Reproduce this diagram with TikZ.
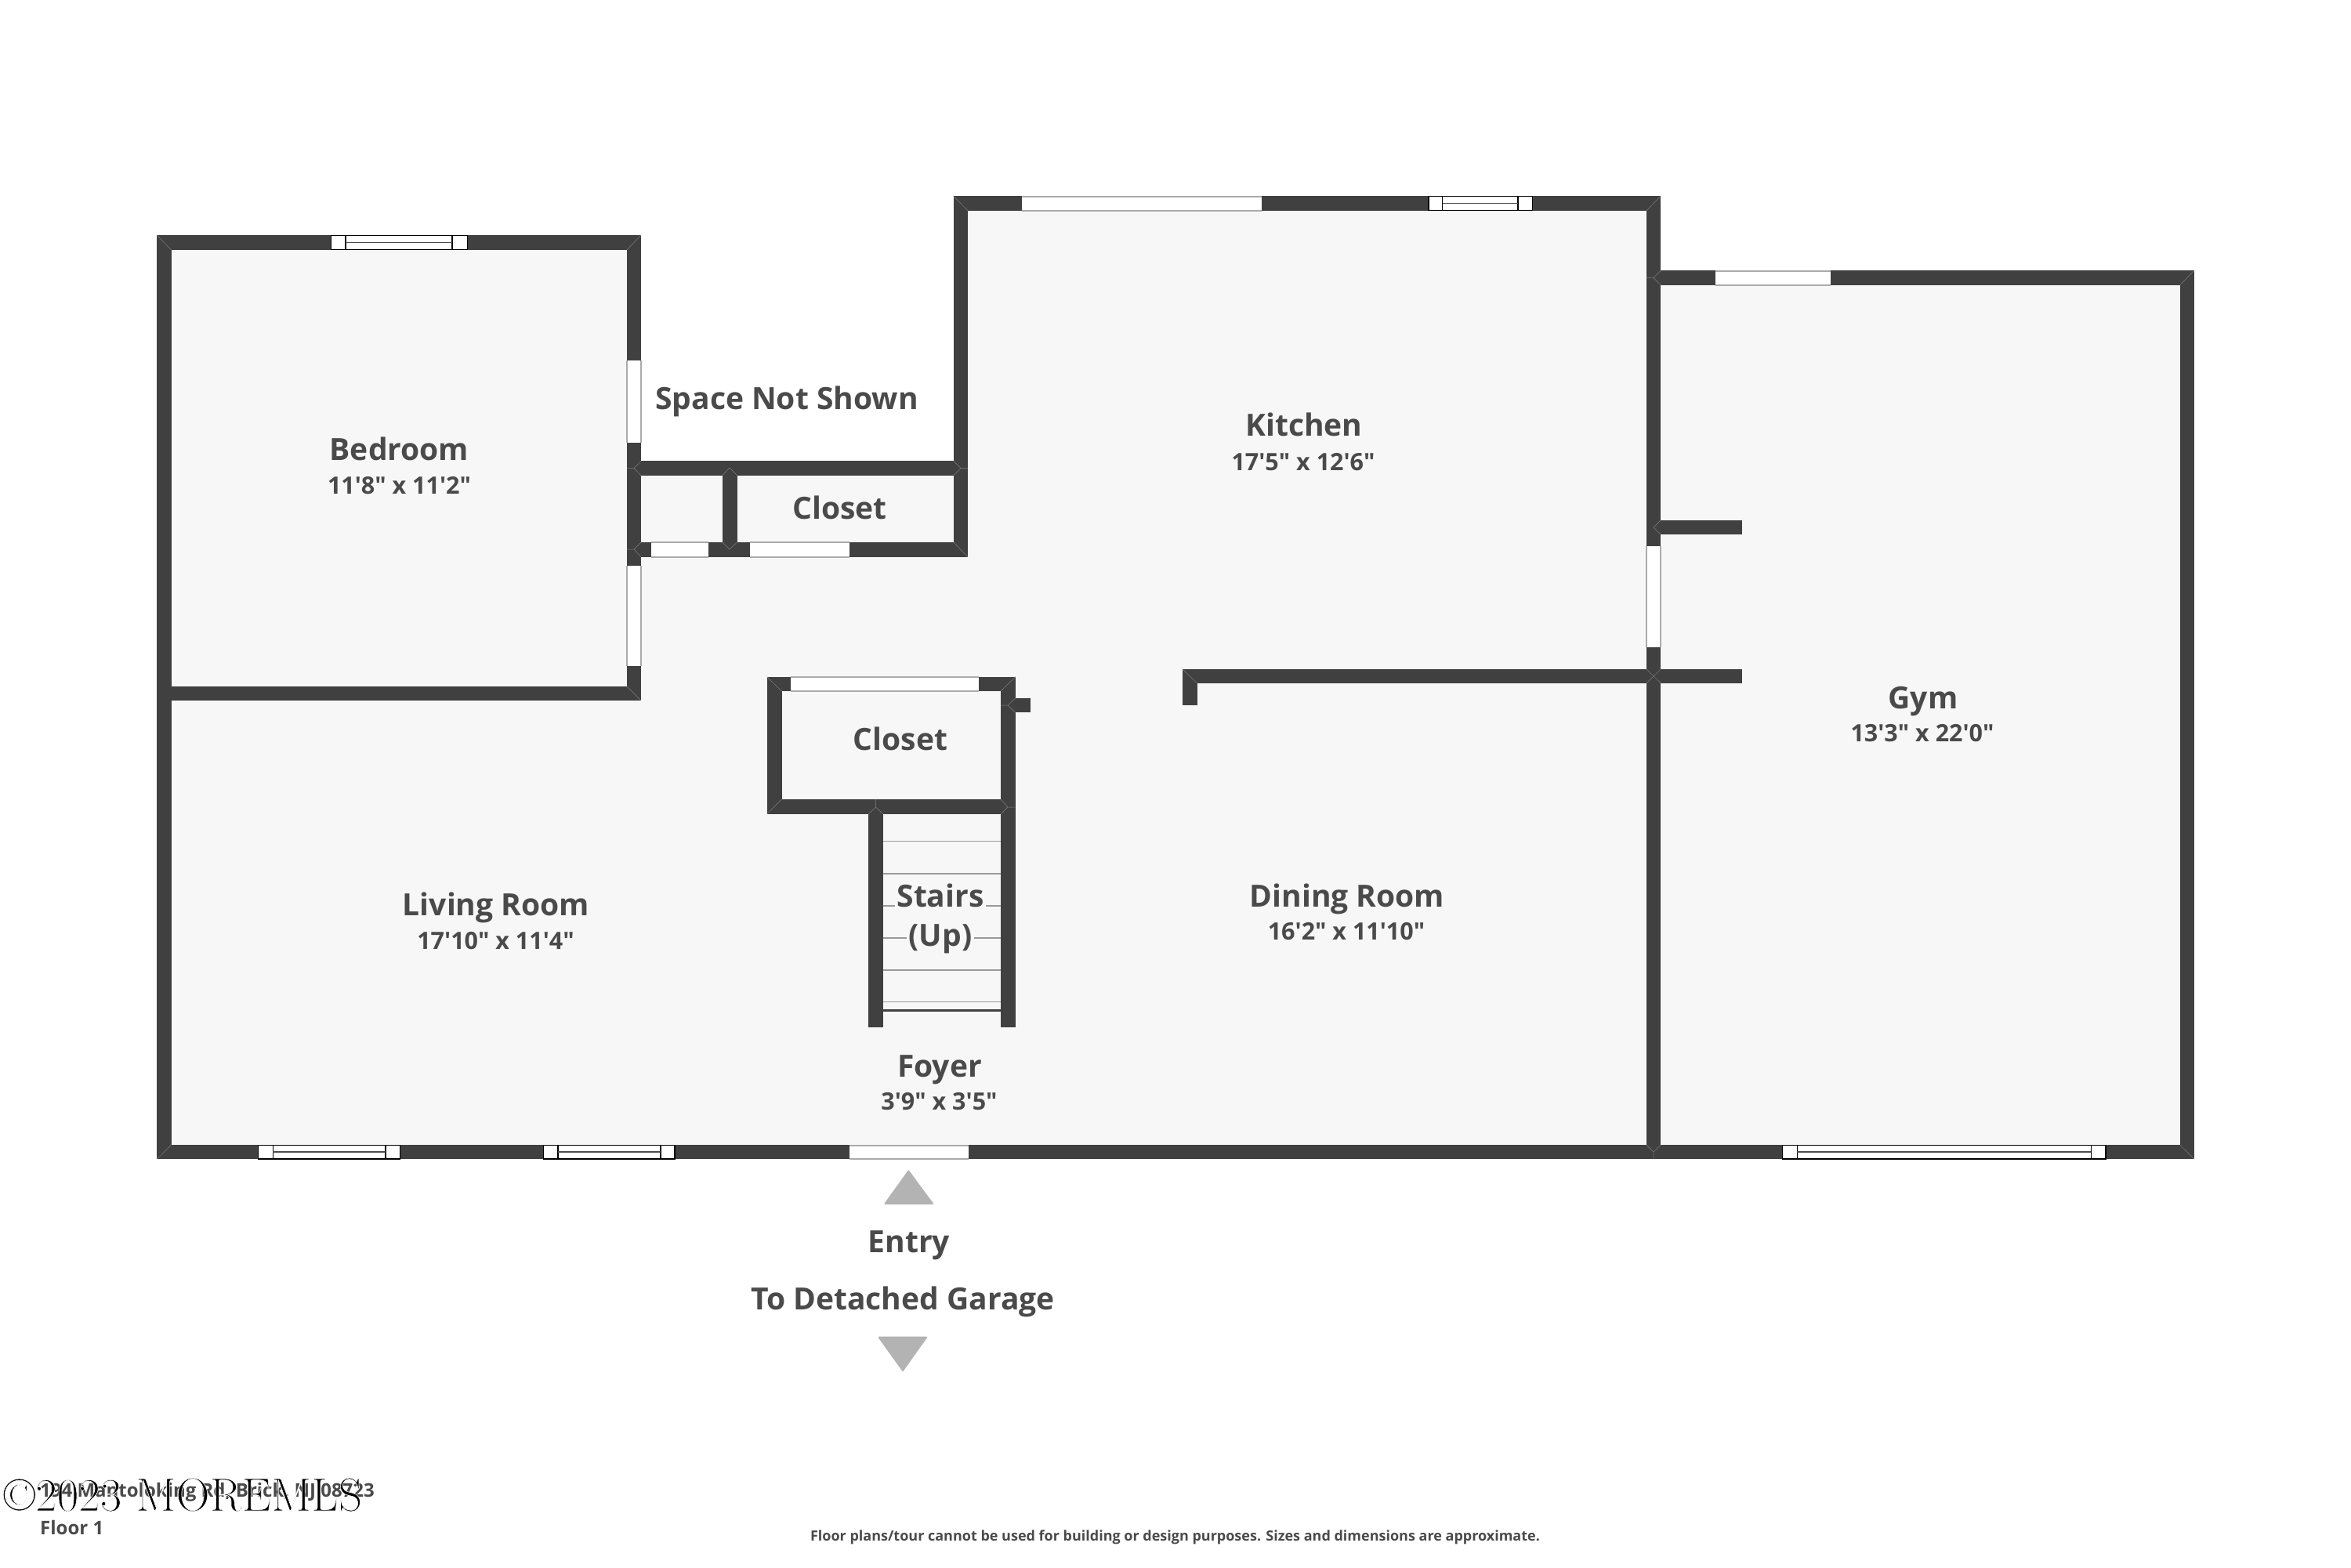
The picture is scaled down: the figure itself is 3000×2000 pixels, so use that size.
\documentclass[tikz,border=0pt]{standalone}
\usepackage{fontspec}
\newfontfamily\lab{Open Sans}[BoldFont={Open Sans Bold}]
\definecolor{wallc}{HTML}{404040}
\definecolor{floorc}{HTML}{F7F7F7}
\definecolor{textc}{HTML}{4A4A4A}
\definecolor{arrowc}{HTML}{B3B3B3}
\definecolor{doorc}{HTML}{ABABAB}
\definecolor{treadc}{HTML}{9A9A9A}
\tikzset{
  wallfill/.style={fill=wallc,draw=none},
  mitre/.style={draw=gray,line width=0.5pt},
  doorline/.style={draw=doorc,line width=2pt},
  winouter/.style={draw=black,fill=white,line width=1.2pt},
  wininner/.style={draw=black,line width=1.6pt},
  winmid/.style={draw=black!70,line width=1.6pt},
  treadline/.style={draw=treadc,line width=1.6pt},
  arrowtri/.style={fill=arrowc,draw=arrowc,line width=2pt,line join=round},
  roomname/.style={anchor=base,text=textc,inner sep=0pt,font=\lab\bfseries\fontsize{39}{41}\selectfont},
  roomdim/.style={anchor=base,text=textc,inner sep=0pt,font=\lab\bfseries\fontsize{30.5}{32}\selectfont},
  smalltext/.style={anchor=base west,text=textc,inner sep=0pt,font=\lab\bfseries\fontsize{24}{26}\selectfont},
  notetext/.style={anchor=base,text=textc,inner sep=0pt,font=\lab\bfseries\fontsize{18}{20}\selectfont},
}
\newcommand{\wallbox}[4]{\fill[wallfill] (#1,#2) rectangle (#3,#4);}
\newcommand{\hdoor}[4]{\fill[white] (#1,#3) rectangle (#2,#4);\draw[doorline] (#1,#3) -- (#2,#3) (#1,#4) -- (#2,#4);}
\newcommand{\vdoor}[4]{\fill[white] (#1,#3) rectangle (#2,#4);\draw[doorline] (#1,#3) -- (#1,#4) (#2,#3) -- (#2,#4);}
\newcommand{\hwin}[6]{\draw[winouter] (#1,#5) rectangle (#4,#6);\draw[wininner] (#2,#5) rectangle (#3,#6);\draw[winmid] (#2,{(#5+#6)/2}) -- (#3,{(#5+#6)/2});}
\begin{document}
\begin{tikzpicture}[x=1pt,y=-1pt]
\useasboundingbox (0,0) rectangle (3000,2000);
\fill[white] (0,0) rectangle (3000,2000);
% floor
\fill[floorc] (200,300) -- (818,300) -- (818,597) -- (1225,597) -- (1225,250) -- (2110,250) -- (2110,345) -- (2800,345) -- (2800,1479.3) -- (200,1479.3) -- cycle;
% walls
\wallbox{200}{300}{818}{318.7}
\wallbox{200}{300}{218.5}{1479.3}
\wallbox{800}{300}{818}{894}
\wallbox{200}{876}{818}{894}
\wallbox{800}{588.3}{1235}{606.7}
\wallbox{800}{692}{1235}{710.7}
\wallbox{921.8}{597}{940.7}{701}
\wallbox{1216.5}{250}{1235}{710.7}
\wallbox{1216.5}{250}{2119.4}{268.7}
\wallbox{2101}{250}{2119.4}{1479.3}
\wallbox{2110}{345}{2800}{364}
\wallbox{2781.6}{345}{2800}{1479.3}
\wallbox{200}{1461}{2800}{1479.3}
\wallbox{2110}{663.5}{2223}{682.2}
\wallbox{1508.7}{853.5}{2223}{872}
\wallbox{1508.7}{853.5}{1527.7}{900}
% inner closet and stairs
\wallbox{978.6}{863.7}{1295.7}{882}
\wallbox{978.6}{863.7}{997.5}{1039}
\wallbox{978.6}{1020}{1295.7}{1039}
\wallbox{1277}{863.7}{1295.7}{1310.7}
\wallbox{1295}{891}{1314.6}{909.3}
\wallbox{1108}{1030}{1126.7}{1310.7}
% mitre lines
\draw[mitre] (200,300) -- (218.5,318.7) (818,300) -- (800,318.7);
\draw[mitre] (818,894) -- (800,876) (1235,710.7) -- (1216.8,692);
\draw[mitre] (1216.5,250) -- (1235,268.7) (2119.4,250) -- (2101,268.7);
\draw[mitre] (2800,345) -- (2781.6,364) (2800,1479.3) -- (2781.6,1461) (200,1479.3) -- (218.5,1461);
\draw[mitre] (800,597.5) -- (809,597.5) -- (818,588.3) (809,597.5) -- (818,606.7);
\draw[mitre] (1235,597.5) -- (1226,597.5) -- (1216.8,588.3) (1226,597.5) -- (1216.8,606.7);
\draw[mitre] (921.8,606.7) -- (931,597) -- (940.7,606.7) (921.8,692) -- (931,701) -- (940.7,692);
\draw[mitre] (800,701) -- (809,701) -- (818,692) (809,701) -- (818,710.7);
\draw[mitre] (978.6,863.7) -- (997.5,882) (1295.7,863.7) -- (1277,882) (978.6,1039) -- (997.5,1020);
\draw[mitre] (1277,900) -- (1286,900) -- (1295.7,891) (1286,900) -- (1295.7,909.3);
\draw[mitre] (1277,1020) -- (1286,1030) -- (1295.7,1030) (1286,1030) -- (1277,1039);
\draw[mitre] (1108,1039) -- (1117.5,1030) -- (1127,1039) (1117.5,1030) -- (1117.5,1020);
\draw[mitre] (1508.7,853.5) -- (1527.7,872);
\draw[mitre] (2101,354.5) -- (2110,354.5) -- (2119.4,345) (2110,354.5) -- (2119.4,364);
\draw[mitre] (2119.4,663.5) -- (2110,673) -- (2119.4,682.2);
\draw[mitre] (2101,853.7) -- (2119.4,872) (2119.4,853.7) -- (2101,872);
\draw[mitre] (2101,1461) -- (2110,1470) -- (2119.4,1461) (2110,1470) -- (2110,1479.3);
% doors
\vdoor{800}{818}{460}{565}
\vdoor{800}{818}{721.7}{850}
\hdoor{830.7}{904}{692}{710.7}
\hdoor{957}{1084}{692}{710.7}
\hdoor{1008.6}{1248.6}{864}{882}
\hdoor{1303.6}{1609.7}{250.5}{268.5}
\hdoor{2189.3}{2336}{345.5}{363.5}
\vdoor{2101}{2119.4}{697}{826}
\hdoor{1084.3}{1235.7}{1461.5}{1479}
% windows
\hwin{422.4}{441}{577}{596.5}{300.5}{318.5}
\hwin{1823}{1840.6}{1937}{1955.8}{250.5}{268.5}
\hwin{329.4}{348.4}{492}{510.4}{1461.5}{1479}
\hwin{693.5}{711.7}{843}{861}{1461.5}{1479}
\hwin{2274.5}{2293.4}{2668.4}{2687}{1461.5}{1479}
% stairs
\draw[treadline] (1126.7,1073.3) -- (1277,1073.3) (1126.7,1114.7) -- (1277,1114.7) (1126.7,1155.7) -- (1277,1155.7) (1126.7,1196.7) -- (1277,1196.7) (1126.7,1237.7) -- (1277,1237.7) (1126.7,1278.3) -- (1277,1278.3);
\draw[wallc,line width=3.5pt] (1126.7,1289.7) -- (1277,1289.7);
% arrows
\filldraw[arrowtri] (1159.3,1494.5) -- (1129.5,1536) -- (1190,1536) -- cycle;
\filldraw[arrowtri] (1121.7,1706.7) -- (1182,1706.7) -- (1152,1749) -- cycle;
% labels
\node[roomname] (bedroom) at (509.5,587) {Bedroom};
\node[roomdim] (bedroomd) at (509.5,630) {11'8" x 11'2"};
\node[roomname] (space) at (1004,522) {Space Not Shown};
\node[roomname] (closeta) at (1071.5,662) {Closet};
\node[roomname] (closetb) at (1149,957) {Closet};
\node[roomname] (kitchen) at (1664,556) {Kitchen};
\node[roomdim] (kitchend) at (1663,600) {17'5" x 12'6"};
\node[roomname,fill=floorc,inner ysep=1pt,inner xsep=3pt] (stairs) at (1200,1157) {Stairs};
\node[roomname,fill=floorc,inner ysep=1pt,inner xsep=3pt] (up) at (1200,1207) {(Up)};
\node[roomname] (foyer) at (1199,1374) {Foyer};
\node[roomdim] (foyerd) at (1198.5,1416.7) {3'9" x 3'5"};
\node[roomname] (living) at (633,1168) {Living Room};
\node[roomdim] (livingd) at (632.5,1211) {17'10" x 11'4"};
\node[roomname] (dining) at (1719,1157) {Dining Room};
\node[roomdim] (diningd) at (1718,1199.5) {16'2" x 11'10"};
\node[roomname] (gym) at (2454,904) {Gym};
\node[roomdim] (gymd) at (2453,946) {13'3" x 22'0"};
\node[roomname] (entry) at (1160,1598) {Entry};
\node[roomname] (garage) at (1152,1671) {To Detached Garage};
\node[notetext] (note) at (1499.5,1966.5) {Floor plans/tour cannot be used for building or design purposes. Sizes and dimensions are approximate.};
\node[smalltext] (address) at (51,1910) {194 Mantoloking Rd, Brick, NJ 08723};
\node[smalltext] (floorname) at (51,1958.5) {Floor 1};
% watermark: thin strokes with a white edge over the address
\node[anchor=base west,inner sep=0pt,text=black,font=\fontsize{60}{60}\selectfont] (mark) at (4,1928) {\special{pdf:code 2 Tr 1 1 1 RG 0.6 w}©2023 MOREMLS\special{pdf:code 0 Tr}};
\end{tikzpicture}
\end{document}
